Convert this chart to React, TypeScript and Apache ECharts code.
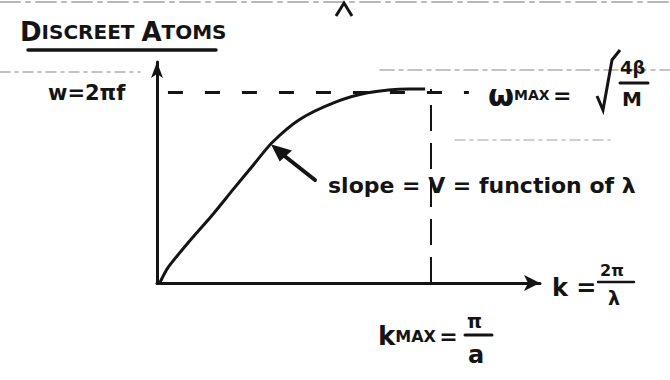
import React, { useEffect, useRef } from "react";
import * as echarts from "echarts";

// wave number k (k_max = 100) and angular frequency ω (ω_max = 100)
const kValues = [1, 4, 12, 20, 28, 35, 42, 52, 65, 77, 92, 98];
const omegaValues = [0, 8, 22, 35, 49, 61, 73, 85, 94, 99, 101, 101];
const kMax = 100;
const omegaMaxLevel = 99;
const dashEndK = 114;
const axisMaxK = 140;
const axisMaxOmega = 115;

const titleText = "DISCREET ATOMS";
const yAxisText = "w=2πf";
const slopeText = "slope = V = function of λ";

const INK = "#141414";
const FONT = "'DejaVu Sans', sans-serif";

export default function App() {
  const ref = useRef<HTMLDivElement>(null);
  useEffect(() => {
    if (!ref.current) return;
    const chart = echarts.init(ref.current, null, { renderer: "svg" });
    const curve = kValues.map((k, i) => [k, omegaValues[i]]);
    const txt = (x: number, y: number, text: string, size: number, extra: any = {}) => ({
      type: "text",
      x,
      y,
      style: {
        text,
        fill: INK,
        font: `bold ${size}px ${FONT}`,
        textVerticalAlign: "middle",
        ...extra,
      },
    });
    const line = (x1: number, y1: number, x2: number, y2: number, w = 3, stroke = INK, dash?: any) => ({
      type: "line",
      shape: { x1, y1, x2, y2 },
      style: { stroke, lineWidth: w, lineDash: dash, lineCap: "round" },
    });
    const option: any = {
      animation: false,
      backgroundColor: "#ffffff",
      grid: { left: 157, right: 130, top: 62, bottom: 97, containLabel: false },
      xAxis: {
        type: "value",
        min: 0,
        max: axisMaxK,
        axisLine: {
          show: true,
          onZero: true,
          symbol: ["none", "arrow"],
          symbolSize: [12, 16],
          lineStyle: { color: INK, width: 3 },
        },
        axisTick: { show: false },
        axisLabel: { show: false },
        splitLine: { show: false },
      },
      yAxis: {
        type: "value",
        min: 0,
        max: axisMaxOmega,
        axisLine: {
          show: true,
          symbol: ["none", "arrow"],
          symbolSize: [9, 16],
          lineStyle: { color: INK, width: 3 },
        },
        axisTick: { show: false },
        axisLabel: { show: false },
        splitLine: { show: false },
      },
      series: [
        {
          type: "line",
          data: curve,
          smooth: 0.25,
          symbol: "none",
          lineStyle: { color: INK, width: 3 },
          markLine: {
            silent: true,
            symbol: ["none", "none"],
            label: { show: false },
            data: [
              [
                { coord: [4, omegaMaxLevel], lineStyle: { color: INK, width: 3, type: [15, 22] } },
                { coord: [dashEndK, omegaMaxLevel] },
              ],
              [
                { coord: [kMax, 0], lineStyle: { color: INK, width: 2, type: [26, 12] } },
                { coord: [kMax, 101] },
              ],
            ],
          },
        },
      ],
      graphic: [
        // faint scan lines
        line(0, 2, 670, 2, 2, "#b8b8b8", [20, 6, 4, 6]),
        line(0, 72, 140, 72, 1.5, "#b0b0b0", [10, 5, 3, 5]),
        line(380, 70, 670, 70, 1.5, "#b0b0b0", [14, 5, 4, 5]),
        line(455, 140, 610, 140, 1.5, "#c0c0c0", [10, 5, 3, 5]),
        { type: "polyline", shape: { points: [[336, 16], [344, 3], [352, 16]] }, style: { stroke: INK, lineWidth: 3, fill: "none" } },
        // title
        {
          type: "text",
          x: 20,
          y: 45,
          style: {
            text: "{b|D}{s|ISCREET }{b|A}{s|TOMS}",
            fill: INK,
            textVerticalAlign: "bottom",
            rich: {
              b: { font: `bold 26px ${FONT}`, fill: INK },
              s: { font: `bold 20px ${FONT}`, fill: INK },
            },
          },
        },
        line(28, 50, 216, 50, 3.5),
        // y label
        txt(48, 93, yAxisText, 21),
        // omega max
        {
          type: "text",
          x: 488,
          y: 95,
          style: {
            text: "{w|ω}{m|MAX} {e|=}",
            fill: INK,
            textVerticalAlign: "middle",
            rich: {
              w: { font: `bold 30px ${FONT}`, fill: INK },
              m: { font: `bold 14px ${FONT}`, fill: INK },
              e: { font: `bold 22px ${FONT}`, fill: INK },
            },
          },
        },
        { type: "polyline", shape: { points: [[597, 96], [603, 110], [612, 60], [620, 50]] }, style: { stroke: INK, lineWidth: 3, fill: "none" } },
        txt(620, 67, "4β", 18),
        line(620, 83, 648, 83, 3),
        txt(622, 99, "M", 20),
        // slope annotation
        line(315, 180, 282, 154, 4),
        { type: "polygon", shape: { points: [[273, 146], [290, 151], [280, 160]] }, style: { fill: INK, stroke: INK, lineWidth: 2 } },
        txt(328, 185, slopeText, 22),
        // k axis label
        txt(552, 288, "k =", 24),
        txt(600, 270, "2π", 16),
        line(598, 282, 634, 282, 2.5),
        txt(608, 298, "λ", 19),
        // kmax
        {
          type: "text",
          x: 378,
          y: 336,
          style: {
            text: "{k|k}{m|MAX} {e|=}",
            fill: INK,
            textVerticalAlign: "middle",
            rich: {
              k: { font: `bold 26px ${FONT}`, fill: INK },
              m: { font: `bold 16px ${FONT}`, fill: INK },
              e: { font: `bold 22px ${FONT}`, fill: INK },
            },
          },
        },
        txt(467, 321, "π", 19),
        line(465, 335, 492, 335, 3),
        txt(468, 355, "a", 24),
      ],
    };
    chart.setOption(option);
    return () => chart.dispose();
  }, []);
  return (
    <div
      ref={ref}
      style={{ position: "absolute", left: 0, top: 0, width: 670, height: 380 }}
    />
  );
}
